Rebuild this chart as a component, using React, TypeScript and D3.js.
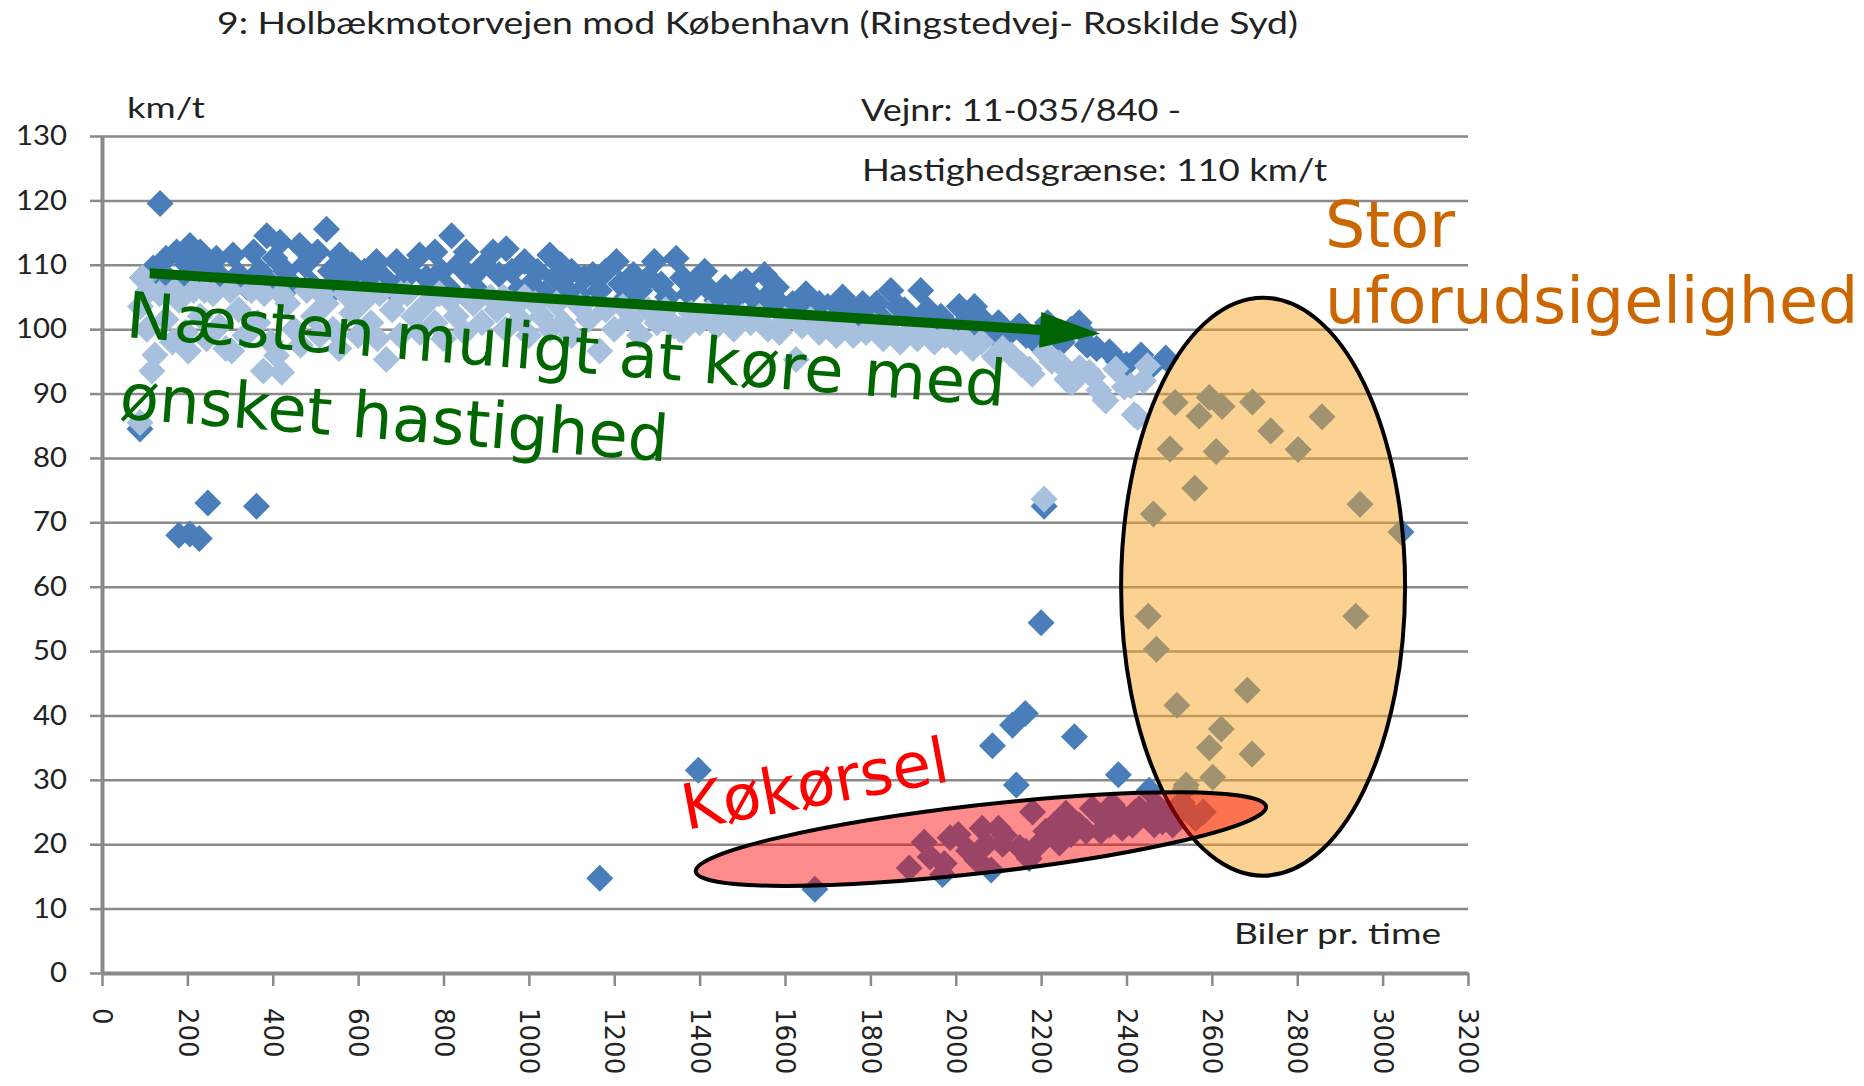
import React, { Component } from 'react';
import * as d3 from 'd3';

// Chart texts
const title = '9: Holbækmotorvejen mod København (Ringstedvej- Roskilde Syd)';
const roadNo = 'Vejnr: 11-035/840 -';
const speedLimit = 'Hastighedsgrænse: 110 km/t';
const yLabel = 'km/t';
const xLabel = 'Biler pr. time';

// Tick values
const yTicks = [0, 10, 20, 30, 40, 50, 60, 70, 80, 90, 100, 110, 120, 130];
const xTicks = [0, 200, 400, 600, 800, 1000, 1200, 1400, 1600, 1800, 2000, 2200, 2400, 2600, 2800, 3000, 3200];

// Dark series, free flow band [biler pr. time, km/t]
const darkFree: [number, number][] = [
  [95, 108], [110, 106], [120, 109.5], [136, 119.5], [140, 106.5], [150, 111], [160, 107.5], [175, 112], [185, 107],
  [200, 110], [206, 113], [215, 107.5], [230, 112], [240, 109], [250, 107], [268, 111], [280, 108], [295, 107],
  [307, 111.5], [320, 108.5], [340, 106.5], [355, 112], [370, 109], [386, 114.5], [395, 107], [405, 111], [417, 113.5],
  [430, 109], [445, 107], [463, 113], [475, 110], [490, 107], [505, 112], [526, 115.5], [535, 109], [548, 106.5],
  [557, 111.5], [570, 108.5], [585, 110], [600, 106.5], [615, 109], [630, 107], [643, 110.5], [660, 108], [675, 106.5],
  [690, 110.5], [705, 107.5], [720, 109], [744, 111.5], [760, 108], [770, 106.5], [780, 112], [795, 109], [810, 106.5],
  [819, 114.5], [835, 110], [853, 112], [865, 108], [880, 106], [895, 110], [916, 112], [930, 108.5], [947, 112.5],
  [960, 109], [975, 106], [990, 110.5], [1005, 107], [1020, 109], [1035, 105.5], [1049, 111.5], [1060, 108], [1075, 110],
  [1090, 106], [1100, 109], [1115, 105.5], [1130, 108], [1150, 108.5], [1165, 106], [1180, 109], [1205, 110.5],
  [1215, 107], [1230, 105], [1245, 108.5], [1260, 106], [1280, 108], [1294, 110.5], [1310, 107], [1325, 105],
  [1345, 111], [1360, 108], [1375, 105.5], [1390, 107.5], [1412, 109], [1425, 106], [1440, 104.5], [1460, 106.5],
  [1480, 104.5], [1495, 107], [1509, 107.5], [1525, 105], [1540, 103.5], [1552, 108.5], [1565, 105.5], [1580, 106.5],
  [1595, 103.5], [1618, 104], [1635, 102.5], [1649, 105.5], [1665, 103], [1680, 104], [1700, 103.5], [1720, 102],
  [1735, 105], [1750, 103], [1765, 101.5], [1782, 104], [1800, 102.5], [1815, 104], [1830, 101.5], [1848, 106],
  [1865, 103.5], [1880, 103], [1900, 101.5], [1918, 106], [1935, 103], [1950, 101], [1965, 102], [1985, 100.5],
  [2008, 103.5], [2020, 101], [2030, 99.5], [2044, 103.5], [2055, 102], [2065, 100], [2085, 99.5], [2100, 101],
  [2120, 99], [2149, 100.5], [2165, 99], [2180, 98.5], [2200, 99.5], [2215, 101], [2235, 99], [2250, 98], [2270, 100],
  [2289, 101], [2300, 99.5], [2308, 97.5], [2330, 97], [2360, 96.5], [2380, 95], [2400, 94.5], [2434, 96], [2455, 94],
  [2492, 95.5],
];

// Dark series, low speeds and queue
const darkLow: [number, number][] = [
  [89, 84.5], [180, 68], [206, 68.2], [228, 67.5], [248, 73], [362, 72.5], [1166, 14.7], [1397, 31.5], [1670, 13],
  [1891, 16.3], [1926, 20.3], [1940, 18], [1969, 15.3], [1973, 17], [1987, 21], [2006, 21.5], [2030, 19],
  [2050, 17.5], [2062, 22.5], [2071, 20], [2083, 16], [2086, 35.3], [2100, 22.5], [2110, 20], [2114, 21.4],
  [2133, 38.5], [2142, 29.2], [2150, 19.5], [2163, 40.3], [2164, 18.9], [2172, 17.8], [2180, 25], [2195, 20],
  [2200, 54.4], [2207, 72.5], [2211, 22], [2230, 23], [2243, 20.2], [2258, 24.8], [2270, 21.5], [2278, 36.7],
  [2289, 23], [2305, 22], [2320, 25.6], [2340, 22], [2345, 24], [2360, 23], [2367, 26.1], [2381, 30.8], [2390, 22.5],
  [2395, 24], [2414, 23], [2420, 25], [2430, 25.5], [2445, 24.5], [2453, 28.4], [2465, 23], [2470, 26], [2484, 23.5],
  [2500, 24.5], [2508, 23], [2525, 25], [2530, 26.5], [2540, 29.2], [2557, 24.3], [2562, 24], [2580, 25],
];

// Dark series, unpredictable area
const darkUnstable: [number, number][] = [
  [2451, 55.4], [2463, 71.3], [2470, 50.3], [2502, 81.4], [2514, 88.6], [2518, 41.6], [2538, 28.6], [2560, 75.3],
  [2570, 86.5], [2594, 89.4], [2594, 35], [2602, 30.4], [2610, 81], [2622, 37.9], [2624, 88], [2683, 43.9],
  [2694, 34], [2695, 88.7], [2738, 84.2], [2802, 81.3], [2858, 86.4], [2937, 55.4], [2947, 72.8], [3043, 68.5],
];

// Light series
const lightSeries: [number, number][] = [
  [89, 85.5], [90, 103.5], [95, 108], [105, 100], [110, 106], [117, 93.5], [124, 96], [135, 105.5], [150, 101.5],
  [165, 98], [170, 106], [180, 104.5], [195, 99.5], [202, 96.6], [215, 106], [230, 102], [240, 106], [245, 98.5],
  [260, 105.5], [275, 100.5], [290, 97], [300, 106], [304, 96.6], [320, 103], [335, 99], [350, 106], [365, 101],
  [378, 93.5], [380, 105.5], [395, 98], [409, 95.9], [420, 105.5], [421, 93.3], [435, 104], [450, 100], [465, 97.5],
  [480, 106], [495, 102], [510, 99], [515, 105.5], [525, 104], [541, 100], [555, 97], [570, 105.5], [585, 102.5],
  [600, 99], [605, 105.5], [615, 104.5], [630, 101], [645, 98.5], [650, 105.5], [666, 95.3], [680, 103], [698, 99],
  [700, 105.5], [715, 105.5], [730, 102], [745, 99.5], [760, 104], [780, 101], [790, 105.5], [800, 98.5], [815, 104.5],
  [830, 102], [850, 99.5], [855, 105], [870, 104], [890, 101], [910, 105], [925, 103], [940, 105], [945, 100],
  [960, 104], [980, 101.5], [990, 105], [1000, 99], [1015, 104], [1030, 102], [1050, 100], [1065, 104], [1080, 101],
  [1100, 99], [1120, 103.5], [1140, 101.5], [1166, 96.6], [1180, 103], [1200, 100], [1220, 103.5], [1240, 101.5],
  [1260, 99], [1280, 103], [1300, 101], [1320, 103], [1340, 100.5], [1353, 100], [1361, 99.8], [1380, 102.5],
  [1400, 101], [1420, 102.5], [1440, 100.5], [1460, 102], [1480, 100], [1500, 102], [1520, 101], [1540, 102],
  [1560, 100], [1587, 99.5], [1600, 101.5], [1626, 95.3], [1640, 100.5], [1660, 101.5], [1680, 99.5], [1700, 101],
  [1720, 99], [1740, 100.5], [1760, 99], [1790, 99.5], [1810, 100.5], [1830, 98.5], [1850, 99.5], [1870, 98],
  [1890, 99.5], [1910, 98.5], [1930, 99.5], [1950, 98], [1975, 99], [2000, 98], [2020, 98.5], [2040, 97], [2060, 98],
  [2090, 95.7], [2110, 97], [2130, 96], [2154, 94.5], [2172, 93.8], [2179, 93], [2209, 96.4], [2207, 73.6],
  [2225, 95], [2243, 94.8], [2260, 92.2], [2266, 92], [2273, 91.7], [2290, 94], [2313, 93.3], [2321, 92.6],
  [2335, 90.5], [2349, 89], [2352, 88.9], [2375, 93.8], [2395, 91], [2410, 91.2], [2418, 86.7], [2426, 86.3],
  [2440, 92], [2449, 94.3],
];

class App extends Component {
  myRef: React.RefObject<HTMLDivElement | null>;

  constructor(props: {}) {
    super(props);
    this.myRef = React.createRef();
  }

  componentDidMount() {
    const root = d3.select(this.myRef.current);
    root.selectAll('*').remove();

    const width = 1864;
    const height = 1086;

    // Plot area in pixels
    const left = 102;
    const right = 1468;
    const top = 136;
    const bottom = 973;

    const calibri = "Lato, 'Open Sans', sans-serif";
    const dejavu = "'DejaVu Sans', Verdana, sans-serif";

    const xScale = d3.scaleLinear().domain([0, 3200]).range([left, right]);
    const yScale = d3.scaleLinear().domain([0, 130]).range([bottom, top]);

    const svg = root
      .append('svg')
      .attr('width', width)
      .attr('height', height)
      .style('position', 'absolute')
      .style('left', 0)
      .style('top', 0)
      .style('background', '#ffffff');

    // Horizontal gridlines
    const grid = svg.append('g').attr('transform', 'translate(' + left + ', 0)');
    d3.axisLeft(yScale).tickValues(yTicks.slice(1)).tickSize(-(right - left)).tickFormat(() => '')(grid);
    grid.select('.domain').remove();
    grid.selectAll('line').style('stroke', '#8a8a8a').style('stroke-width', 2.5);

    // Vertical axis
    const yAxis = svg.append('g').attr('transform', 'translate(' + left + ', 0)');
    d3.axisLeft(yScale).tickValues(yTicks).tickSize(12).tickSizeOuter(0).tickPadding(23)(yAxis);
    yAxis.select('.domain').style('stroke', '#898989').style('stroke-width', 4);
    yAxis.selectAll('line').style('stroke', '#8a8a8a').style('stroke-width', 2.5);
    yAxis.selectAll('text')
      .attr('textLength', (d: any) => String(d).length * 17)
      .attr('lengthAdjust', 'spacingAndGlyphs')
      .style('font-family', calibri)
      .style('font-size', '27px')
      .style('fill', '#222');

    // Horizontal axis
    const xAxis = svg.append('g').attr('transform', 'translate(0, ' + bottom + ')');
    d3.axisBottom(xScale).tickValues(xTicks).tickSize(13).tickSizeOuter(0).tickFormat(d3.format('d'))(xAxis);
    xAxis.select('.domain').style('stroke', '#898989').style('stroke-width', 4);
    xAxis.selectAll('line').style('stroke', '#8a8a8a').style('stroke-width', 2.5);
    xAxis.selectAll('text')
      .attr('transform', 'rotate(90)')
      .attr('x', 35)
      .attr('y', 0)
      .attr('dy', '0.36em')
      .style('text-anchor', 'start')
      .style('font-family', dejavu)
      .style('font-size', '26px')
      .style('fill', '#222');

    // Diamond markers
    const diamond = d3.symbol().type(d3.symbolSquare).size(365)();
    const drawSeries = (data: [number, number][], color: string) => {
      svg.append('g')
        .selectAll('path')
        .data(data)
        .enter()
        .append('path')
        .attr('d', diamond)
        .attr('transform', (d) => 'translate(' + xScale(d[0]) + ', ' + yScale(d[1]) + ') rotate(45)')
        .style('fill', color);
    };
    drawSeries(darkFree.concat(darkLow, darkUnstable), '#4a7ebb');
    drawSeries(lightSeries, '#a7c0de');

    // Orange ellipse: unpredictable area
    svg.append('ellipse')
      .attr('cx', xScale(2720))
      .attr('cy', yScale(60))
      .attr('rx', 142)
      .attr('ry', 289)
      .style('fill', 'rgb(247, 166, 38)')
      .style('fill-opacity', 0.5)
      .style('stroke', '#000')
      .style('stroke-width', 4);

    // Red ellipse: queue
    svg.append('ellipse')
      .attr('transform', 'translate(' + xScale(2059) + ', ' + yScale(20.8) + ') rotate(-6.5)')
      .attr('rx', 287)
      .attr('ry', 34)
      .style('fill', '#ff0000')
      .style('fill-opacity', 0.45)
      .style('stroke', '#000')
      .style('stroke-width', 4);

    // Green arrow
    const x1 = xScale(112);
    const y1 = yScale(108.7);
    const x2 = xScale(2338);
    const y2 = yScale(99.3);
    const angle = Math.atan2(y2 - y1, x2 - x1) * 180 / Math.PI;
    const len = Math.hypot(x2 - x1, y2 - y1);
    const arrow = svg.append('g')
      .attr('transform', 'translate(' + x1 + ', ' + y1 + ') rotate(' + angle + ')');
    arrow.append('line')
      .attr('x1', 0).attr('y1', 0)
      .attr('x2', len - 55).attr('y2', 0)
      .style('stroke', '#006400')
      .style('stroke-width', 10);
    arrow.append('path')
      .attr('d', 'M' + (len - 60) + ',-18L' + len + ',0L' + (len - 60) + ',18Z')
      .style('fill', '#006400');

    // Titles and labels (stretched like the original Calibri text)
    const label = (x: number, y: number, w: number, size: number, text: string) => {
      svg.append('text')
        .attr('x', x).attr('y', y)
        .attr('textLength', w).attr('lengthAdjust', 'spacingAndGlyphs')
        .style('font-family', calibri).style('font-size', size + 'px').style('fill', '#222')
        .text(text);
    };
    label(217, 34, 1081, 30, title);
    label(127, 118, 78, 29, yLabel);
    label(861, 121, 320, 30, roadNo);
    label(862, 181, 465, 30, speedLimit);
    label(1234, 944, 207, 29, xLabel);

    // Annotations
    const green = svg.append('g')
      .attr('transform', 'translate(125, 337) rotate(4.5)')
      .style('font-family', dejavu).style('font-size', '64px').style('fill', '#006600');
    green.append('text').attr('x', 0).attr('y', 0).text('Næsten muligt at køre med');
    green.append('text').attr('x', 0).attr('y', 81.5).text('ønsket hastighed');

    svg.append('text')
      .attr('transform', 'translate(686, 830) rotate(-10.5)')
      .style('font-family', dejavu).style('font-size', '63px').style('fill', '#ff0000')
      .text('Køkørsel');

    const orange = svg.append('g')
      .style('font-family', dejavu).style('font-size', '63.5px').style('fill', '#cc6600');
    orange.append('text').attr('x', 1325).attr('y', 247).text('Stor');
    orange.append('text').attr('x', 1325).attr('y', 323).text('uforudsigelighed');
  }

  render() {
    return (
      <>
        <div ref={this.myRef}></div>
      </>
    );
  }
}

export default App;
